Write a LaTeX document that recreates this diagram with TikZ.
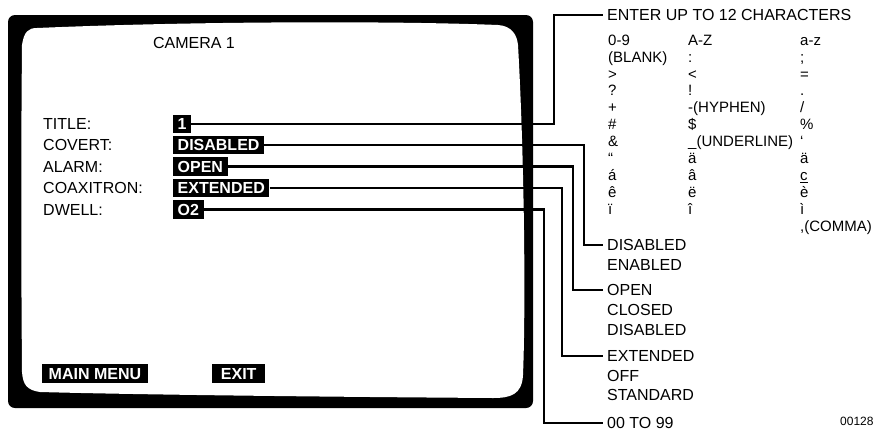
\documentclass[tikz,border=0pt]{standalone}
\usepackage{fontspec}
\setmainfont{Liberation Sans}
\tikzset{lblbox/.style={
    anchor=west,
    inner sep=0pt,
    font=\fontsize{16}{19}\selectfont,
    text height=11.5pt,
    text depth=0pt
  },
  valbox/.style={lblbox,fill=black,text=white,
    font=\fontsize{16}{19}\selectfont\bfseries,
    inner xsep=4.5pt,inner ysep=3.3pt},
  menubox/.style={valbox,inner xsep=6.5pt},
  optbox/.style={lblbox,inner xsep=4pt},
  tabbox/.style={anchor=north west,inner sep=0pt,align=left,
    font=\fontsize{15}{16.9}\selectfont},
  wire/.style={line width=2.4pt},
}
\begin{document}
\begin{tikzpicture}[x=1pt,y=-1pt]
  \useasboundingbox (0,0) rectangle (879,432);
  \fill[rounded corners=7pt] (8,15) rectangle (533,408);
  \fill[white] (37,28) .. controls (200,21) and (400,21) .. (498,25)
    .. controls (512,26) and (517,35) .. (518,45)
    .. controls (524,150) and (526,300) .. (523,375)
    .. controls (522,395) and (510,398) .. (493,398)
    .. controls (350,397) and (150,395) .. (40,392)
    .. controls (27,390) and (23,385) .. (22,372)
    .. controls (21,250) and (21,150) .. (22,45)
    .. controls (24,32) and (28,28) .. (37,28) -- cycle;

  \node [lblbox,anchor=center] (cam) at (194,43) {CAMERA 1};
  \node [lblbox] (ltitle) at (43,124) {TITLE:};
  \node [lblbox] (lcovert) at (43,145) {COVERT:};
  \node [lblbox] (lalarm) at (43,166.5) {ALARM:};
  \node [lblbox] (lcoax) at (43,188) {COAXITRON:};
  \node [lblbox] (ldwell) at (43,209.5) {DWELL:};
  \node [valbox] (vtitle) at (173,124) {1};
  \node [valbox] (vcovert) at (173,145) {DISABLED};
  \node [valbox] (valarm) at (173,166.5) {OPEN};
  \node [valbox] (vcoax) at (173,188) {EXTENDED};
  \node [valbox] (vdwell) at (173,209.5) {O2};
  \node [menubox] (mainmenu) at (42,373.5) {MAIN MENU};
  \node [menubox,minimum width=53pt] (exit) at (212,373.5) {EXIT};

  \node [optbox] (oenter) at (603,15) {ENTER UP TO 12 CHARACTERS};
  \node [tabbox] (col09) at (608,34.6) {0-9\vphantom{0}\\ (BLANK)\\ >\\ ?\\ +\\ \#\\ \&\\ “\\ á\\ ê\\ ï};
  \node [tabbox] (colAZ) at (688,34.6) {A-Z\vphantom{0}\\ :\\ <\\ !\\ -(HYPHEN)\\ \$\\ \_(UNDERLINE)\\ ä\\ â\\ ë\\ î};
  \node [tabbox] (colaz) at (800,34.6) {a-z\vphantom{0}\\ ;\\ =\\ .\\ /\\ \%\\ ‘\\ ä\\ \underline{c}\\ è\\ ì\\ ,(COMMA)};

  \node [optbox] (ocovert1) at (603,245) {DISABLED};
  \node [optbox] (ocovert2) at (603,264.5) {ENABLED};
  \node [optbox] (oalarm1) at (603,290) {OPEN};
  \node [optbox] (oalarm2) at (603,310) {CLOSED};
  \node [optbox] (oalarm3) at (603,329.5) {DISABLED};
  \node [optbox] (ocoax1) at (603,356) {EXTENDED};
  \node [optbox] (ocoax2) at (603,375.5) {OFF};
  \node [optbox] (ocoax3) at (603,394.5) {STANDARD};
  \node [optbox] (odwell) at (603,423) {00 TO 99};
  \node [lblbox,font=\fontsize{12}{14}\selectfont,text height=8.6pt] (fig) at (840,421) {00128};

  \coordinate (xtitle) at (554,0);
  \coordinate (xcovert) at (584,0);
  \coordinate (xalarm) at (573,0);
  \coordinate (xcoax) at (562,0);
  \coordinate (xdwell) at (544,0);
  \draw[wire] (vtitle.east) -| (xtitle |- oenter.west) -- (oenter.west);
  \draw[wire] (vcovert.east) -| (xcovert |- ocovert1.west) -- (ocovert1.west);
  \draw[wire] (valarm.east) -| (xalarm |- oalarm1.west) -- (oalarm1.west);
  \draw[wire] (vcoax.east) -| (xcoax |- ocoax1.west) -- (ocoax1.west);
  \draw[wire] (vdwell.east) -| (xdwell |- odwell.west) -- (odwell.west);
\end{tikzpicture}
\end{document}
